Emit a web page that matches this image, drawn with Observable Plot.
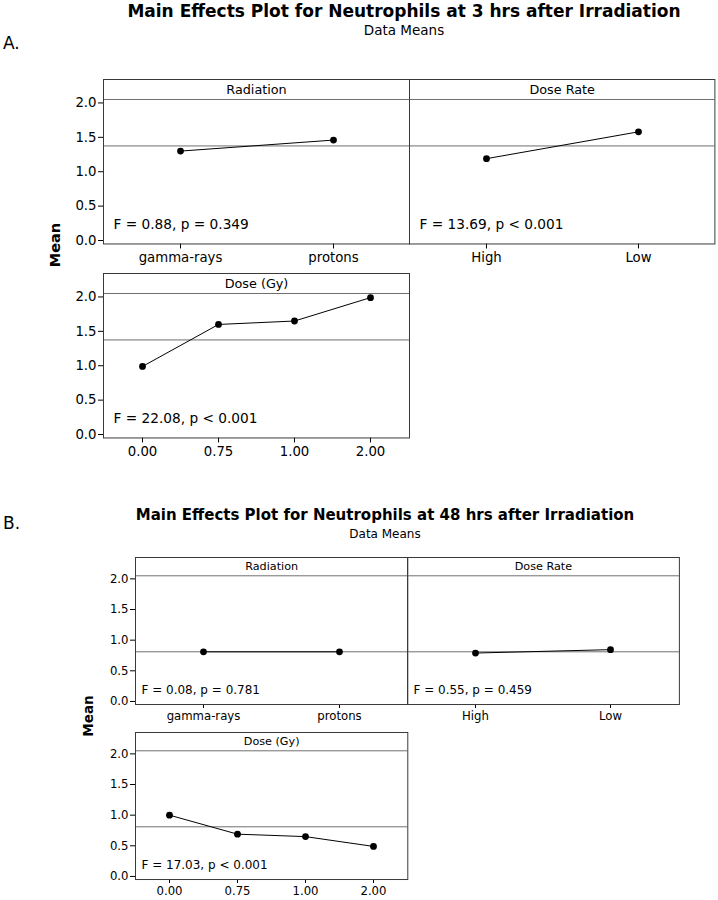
<!DOCTYPE html>
<html><head><meta charset="utf-8">
<script src="https://cdn.jsdelivr.net/npm/d3@7"></script>
<script src="https://cdn.jsdelivr.net/npm/@observablehq/plot@0.6"></script>
<style>
body{margin:0;background:#fff;}
#chart{position:relative;width:718px;height:900px;font-family:"DejaVu Sans",sans-serif;color:#000;overflow:hidden;background:#fff;}
.lbl{position:absolute;white-space:nowrap;line-height:1;}
</style></head><body><div id="chart"></div>
<script>
// ---- data ----
const factorNames = ["Radiation", "Dose Rate", "Dose (Gy)"];
const radiationLevels = ["gamma-rays", "protons"];
const doseRateLevels = ["High", "Low"];
const doseLevels = ["0.00", "0.75", "1.00", "2.00"];
const yTicks = [0, 0.5, 1.0, 1.5, 2.0];

// A: 3 hrs
const radiationMeansA = [1.30, 1.46];
const doseRateMeansA = [1.19, 1.58];
const doseMeansA = [0.99, 1.60, 1.65, 1.99];
const grandMeanA = 1.375;
const statsA = ["F = 0.88, p = 0.349", "F = 13.69, p < 0.001", "F = 22.08, p < 0.001"];

// B: 48 hrs
const radiationMeansB = [0.81, 0.81];
const doseRateMeansB = [0.79, 0.845];
const doseMeansB = [1.00, 0.69, 0.65, 0.49];
const grandMeanB = 0.81;
const statsB = ["F = 0.08, p = 0.781", "F = 0.55, p = 0.459", "F = 17.03, p < 0.001"];

const titleA = "Main Effects Plot for Neutrophils at 3 hrs after Irradiation";
const titleB = "Main Effects Plot for Neutrophils at 48 hrs after Irradiation";
const subtitle = "Data Means";
const yLabel = "Mean";

// ---- layout ----
const chart = document.getElementById("chart");
function addText(txt, x, y, size, opts = {}) {
  const d = document.createElement("div");
  d.className = "lbl";
  d.textContent = txt;
  d.style.left = x + "px";
  d.style.top = y + "px";
  d.style.fontSize = size + "px";
  if (opts.bold) d.style.fontWeight = "bold";
  let t = opts.anchor === "start" ? "translate(0,-50%)" : "translate(-50%,-50%)";
  if (opts.rotate) t += ` rotate(${opts.rotate}deg)`;
  d.style.transform = t;
  chart.appendChild(d);
}

function panel(cfg) {
  const {levels, values, mean, name, stat, k, strip, left, right, top, showY,
         tick, statSize, stripSize, statDx, statDy, tickSize, tickPad} = cfg;
  const lo = -0.05, hi = 2.05;
  const ML = showY ? 50 : 4, MR = 4, MT = 4, MB = 34;
  const w = right - left, fh = (hi - lo) * k + strip;
  const data = levels.map((l, i) => ({level: l, mean: values[i]}));
  const marks = [
    Plot.ruleY([hi], {stroke: "#6e6e6e"}),
    Plot.ruleY([mean], {stroke: "#6e6e6e"}),
    Plot.line(data, {x: "level", y: "mean", stroke: "#000", strokeWidth: 1}),
    Plot.dot(data, {x: "level", y: "mean", r: 3.4, fill: "#000", stroke: "none"}),
    Plot.text([name], {text: d => d, frameAnchor: "top", dy: strip / 2, lineAnchor: "middle", fontSize: stripSize, fill: "#000"}),
    Plot.text([stat], {text: d => d, frameAnchor: "bottom-left", textAnchor: "start", dx: statDx, dy: -statDy, lineAnchor: "middle", fontSize: statSize, fill: "#000"}),
    Plot.axisX({tickSize, tickPadding: tickPad, label: null, fontSize: tick}),
    Plot.frame({stroke: "#3a3a3a"})
  ];
  if (showY) marks.push(Plot.axisY({ticks: yTicks, tickFormat: d3.format(".1f"), tickSize: 5, tickPadding: 2, label: null, fontSize: tick}));
  const svg = Plot.plot({
    width: ML + w + MR, height: MT + fh + MB,
    marginLeft: ML, marginRight: MR, marginTop: MT, marginBottom: MB,
    x: {type: "point", domain: levels, padding: 0.5, axis: null},
    y: {domain: [lo, hi + strip / k], axis: null},
    style: {fontFamily: "DejaVu Sans, sans-serif", fontSize: tick + "px", background: "transparent", overflow: "visible", color: "#000"},
    marks
  });
  svg.style.position = "absolute";
  svg.style.left = (left - ML) + "px";
  svg.style.top = (top - MT) + "px";
  svg.style.maxWidth = "none";
  chart.appendChild(svg);
}

// ---- Chart A ----
addText(titleA, 404, 11, 17, {bold: true});
addText(subtitle, 404, 30.5, 13.5);
addText("A.", 3, 43, 17, {anchor: "start"});
addText(yLabel, 55, 245, 14.5, {bold: true, rotate: -90});

const A = {k: 68.8, strip: 20, tick: 13.3, statSize: 13.7, stripSize: 12.8, statDx: 10, statDy: 19, tickSize: 5, tickPad: 4};
panel({...A, levels: radiationLevels, values: radiationMeansA, mean: grandMeanA, name: factorNames[0], stat: statsA[0], left: 103.3, right: 409.3, top: 79.3, showY: true});
panel({...A, levels: doseRateLevels, values: doseRateMeansA, mean: grandMeanA, name: factorNames[1], stat: statsA[1], left: 409.3, right: 714.7, top: 79.3, showY: false});
panel({...A, levels: doseLevels, values: doseMeansA, mean: grandMeanA, name: factorNames[2], stat: statsA[2], left: 103.3, right: 409.3, top: 273.3, showY: true});

// ---- Chart B ----
addText(titleB, 385, 515, 15, {bold: true});
addText(subtitle, 385, 533.5, 12);
addText("B.", 3, 523, 17, {anchor: "start"});
addText(yLabel, 89, 716, 13.5, {bold: true, rotate: -90});

const B = {k: 61.3, strip: 18.3, tick: 11.7, statSize: 12, stripSize: 11.2, statDx: 6, statDy: 14.4, tickSize: 4, tickPad: 3};
panel({...B, levels: radiationLevels, values: radiationMeansB, mean: grandMeanB, name: factorNames[0], stat: statsB[0], left: 134.5, right: 406.8, top: 556.7, showY: true});
panel({...B, levels: doseRateLevels, values: doseRateMeansB, mean: grandMeanB, name: factorNames[1], stat: statsB[1], left: 406.8, right: 678.7, top: 556.7, showY: false});
panel({...B, levels: doseLevels, values: doseMeansB, mean: grandMeanB, name: factorNames[2], stat: statsB[2], left: 134.5, right: 406.8, top: 731.7, showY: true});
</script></body></html>
